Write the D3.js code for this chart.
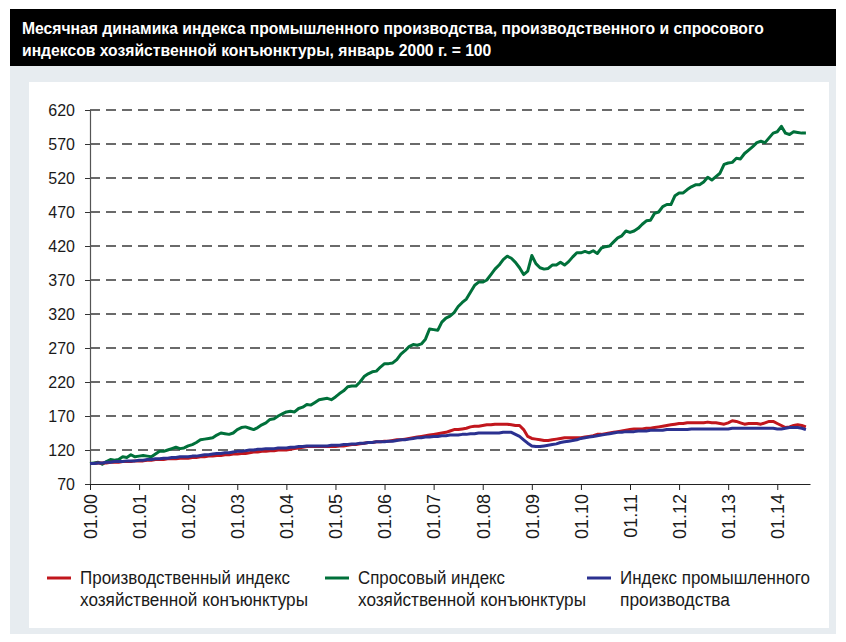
<!DOCTYPE html>
<html lang="ru">
  <head>
    <meta charset="utf-8">
    <title>Индексы хозяйственной конъюнктуры</title>
    <script src="https://cdn.jsdelivr.net/npm/d3@7/dist/d3.min.js"></script>
    <style>
      body { margin: 0; background: #fff; }
      svg { display: block; }
    </style>
  </head>
  <body>
    <div id='main'></div>
  </body>

  <script type='text/javascript'>

      // monthly values, Jan 2000 .. Aug 2014 (Jan 2000 = 100)
      const demandIndex = [
        100, 101, 102, 99, 103, 106, 105, 106, 110, 109, 113, 110,
        111, 112, 111, 110, 114, 118, 118, 120, 122, 124, 122, 123,
        126, 128, 131, 135, 136, 137, 138, 142, 145, 144, 143, 145,
        150, 153, 154, 152, 150, 153, 157, 160, 165, 166, 170, 173,
        176, 177, 176, 181, 183, 187, 186, 190, 194, 195, 196, 194,
        198, 203, 207, 213, 214, 214, 220, 228, 232, 235, 236, 242,
        247, 247, 248, 253, 261, 266, 272, 275, 274, 276, 283, 298,
        297, 296, 308, 314, 317, 322, 331, 337, 342, 352, 362, 367,
        367, 370, 378, 386, 392, 400, 405, 402, 396, 388, 378, 383,
        406, 394, 388, 386, 387, 392, 392, 396, 392, 397, 404, 410,
        410, 412, 410, 413, 409, 417, 419, 420, 426, 432, 435, 442,
        440, 442, 446, 452, 457, 458, 468, 470, 478, 481, 481, 494,
        498, 498, 503, 507, 510, 510, 514, 521, 517, 522, 527, 540,
        542, 543, 549, 548, 556, 561, 566, 572, 574, 572, 579, 586,
        588, 596, 586, 584, 588, 587, 586, 586
      ];

      const productionIndex = [
        100, 100, 101, 101, 101, 102, 102, 102, 103, 103, 103, 104,
        104, 104, 105, 105, 106, 106, 106, 107, 107, 107, 108, 108,
        108, 109, 109, 110, 110, 111, 111, 112, 112, 113, 113, 114,
        114, 115, 115, 116, 117, 117, 118, 118, 119, 119, 120, 120,
        120, 121, 122, 123, 124, 125, 125, 125, 125, 125, 125, 125,
        125, 126, 126, 127, 128, 128, 129, 130, 131, 131, 132, 132,
        133, 133, 134, 135, 135, 136, 137, 138, 139, 140, 141, 142,
        143, 144, 145, 146, 148, 150, 150, 151, 152, 154, 155, 155,
        156, 157, 157, 158, 158, 158, 158, 157, 156, 156, 150, 140,
        137, 136, 135, 134, 134, 135, 136, 137, 138, 138, 138, 138,
        138, 139, 140, 141, 143, 143, 144, 145, 146, 147, 148, 149,
        150, 151, 151, 151, 152, 152, 153, 154, 155, 156, 157, 158,
        159, 159, 160, 160, 160, 160, 160, 161, 160, 160, 159, 158,
        160, 163, 162, 160, 158, 159, 159, 159, 158, 160, 162, 162,
        159, 156, 153, 154, 156, 157, 156, 154
      ];

      const industryIndex = [
        100, 100, 101, 101, 102, 102, 103, 103, 103, 104, 104, 104,
        105, 105, 106, 106, 107, 107, 108, 108, 109, 109, 110, 110,
        110, 111, 111, 112, 113, 113, 114, 115, 115, 116, 116, 117,
        118, 118, 119, 120, 120, 121, 121, 122, 122, 122, 123, 123,
        123, 124, 124, 125, 125, 126, 126, 126, 126, 126, 126, 127,
        127, 127, 128, 128, 129, 129, 130, 130, 131, 131, 132, 132,
        132, 133, 133, 134, 135, 135, 136, 137, 138, 138, 139, 139,
        140, 140, 141, 141, 142, 142, 142, 143, 143, 144, 144, 145,
        145, 145, 145, 145, 145, 146, 146, 146, 143, 140, 135, 130,
        126, 125, 125, 126, 127, 128, 129, 131, 132, 133, 134, 135,
        137, 138, 139, 140, 141, 142, 143, 144, 145, 146, 146, 147,
        147, 147, 148, 148, 148, 149, 149, 149, 149, 150, 150, 150,
        150, 150, 150, 151, 151, 151, 151, 151, 151, 151, 151, 151,
        151, 152, 152, 152, 152, 152, 152, 152, 152, 152, 152, 152,
        151, 151, 152, 153, 153, 153, 152, 150
      ];

      const xTickLabels = ['01.00','01.01','01.02','01.03','01.04','01.05','01.06','01.07',
                           '01.08','01.09','01.10','01.11','01.12','01.13','01.14'];
      const yTicks = [70, 120, 170, 220, 270, 320, 370, 420, 470, 520, 570, 620];

      const titleLines = [
        'Месячная динамика индекса промышленного производства, производственного и спросового',
        'индексов хозяйственной конъюнктуры, январь 2000 г. = 100'
      ];

      const seriesNames = [
        ['Производственный индекс', 'хозяйственной конъюнктуры'],
        ['Спросовый индекс', 'хозяйственной конъюнктуры'],
        ['Индекс промышленного', 'производства']
      ];

      // set up the canvas
      let canvas = d3.select('#main').append('svg')
        .attr('width', 846)
        .attr('height', 642);

      // title bar, grey panel, white card
      canvas.append('rect').attr('x', 10).attr('y', 9).attr('width', 826).attr('height', 57).attr('fill', '#000');
      canvas.append('rect').attr('x', 10).attr('y', 66).attr('width', 826).attr('height', 568).attr('fill', '#e7ecf0');
      canvas.append('rect').attr('x', 29).attr('y', 82).attr('width', 800).attr('height', 546).attr('fill', '#fff');

      canvas.selectAll('text.title')
        .data(titleLines)
        .enter()
        .append('text')
        .attr('class', 'title')
        .attr('x', 22)
        .attr('y', (d, i) => 34 + i * 22)
        .attr('font-family', 'Liberation Sans, Arial, sans-serif')
        .attr('font-weight', 'bold')
        .attr('font-size', '15.7px')
        .attr('fill', '#fff')
        .text(d => d);

      const x = d3.scaleLinear().domain([0, 176]).range([90, 810]);
      const y = d3.scaleLinear().domain([70, 620]).range([484, 110]);

      // dashed gridlines
      canvas.append('g')
        .selectAll('line')
        .data(yTicks.slice(1))
        .enter()
        .append('line')
        .attr('x1', x(0))
        .attr('x2', x(176))
        .attr('y1', d => y(d))
        .attr('y2', d => y(d))
        .attr('stroke', '#3a3a3a')
        .attr('stroke-width', 1.3)
        .attr('stroke-dasharray', '10,6');

      // y axis
      const yAxis = canvas.append('g')
        .attr('transform', `translate(${x(0)},0)`)
        .call(d3.axisLeft(y).tickValues(yTicks).tickSize(5).tickPadding(10).tickFormat(d3.format('d')));
      yAxis.select('.domain').attr('stroke', '#555').attr('stroke-width', 1.2);
      yAxis.selectAll('.tick line').attr('stroke', '#333');
      yAxis.selectAll('text')
        .attr('font-family', 'Liberation Sans, Arial, sans-serif')
        .attr('font-size', '16px')
        .attr('fill', '#1a1a1a');

      // x axis, one tick per January
      const xAxis = canvas.append('g')
        .attr('transform', `translate(0,${y(70)})`)
        .call(d3.axisBottom(x)
          .tickValues(xTickLabels.map((d, i) => i * 12))
          .tickSize(6)
          .tickSizeOuter(0)
          .tickFormat((d, i) => xTickLabels[i]));
      xAxis.select('.domain').attr('stroke', '#222').attr('stroke-width', 1.2);
      xAxis.selectAll('.tick line').attr('stroke', '#222');
      xAxis.selectAll('text')
        .attr('font-family', 'Liberation Sans, Arial, sans-serif')
        .attr('font-size', '18px')
        .attr('fill', '#1a1a1a')
        .attr('transform', 'rotate(-90)')
        .attr('text-anchor', 'end')
        .attr('dy', '0.35em')
        .attr('x', -10)
        .attr('y', 0);

      // lines
      const colors = ['#c1161d', '#00703a', '#2b3190'];
      const series = [productionIndex, demandIndex, industryIndex];
      const line = d3.line().x((d, i) => x(i)).y(d => y(d));
      [1, 0, 2].forEach(k => {
        canvas.append('path')
          .datum(series[k])
          .attr('d', line)
          .attr('fill', 'none')
          .attr('stroke', colors[k])
          .attr('stroke-width', 3)
          .attr('stroke-linejoin', 'round');
      });

      // legend
      const legendX = [47, 325, 587];
      const legendWidths = [[210, 228], [147, 228], [190, 110]];
      const legend = canvas.selectAll('g.legend')
        .data(seriesNames)
        .enter()
        .append('g')
        .attr('class', 'legend')
        .attr('transform', (d, i) => `translate(${legendX[i]},578)`);

      legend.append('line')
        .attr('x1', 0).attr('x2', 24)
        .attr('y1', 0).attr('y2', 0)
        .attr('stroke', (d, i) => colors[i])
        .attr('stroke-width', 3);

      legend.each(function(d, i) {
        d3.select(this).selectAll('text')
          .data(d)
          .enter()
          .append('text')
          .attr('x', 33)
          .attr('y', (t, j) => 6 + j * 22)
          .attr('textLength', (t, j) => legendWidths[i][j])
          .attr('lengthAdjust', 'spacingAndGlyphs')
          .attr('font-family', 'Liberation Sans Narrow, Arial Narrow, sans-serif')
          .attr('font-size', '18px')
          .attr('fill', '#1a1a1a')
          .text(t => t);
      });

  </script>
</html>
